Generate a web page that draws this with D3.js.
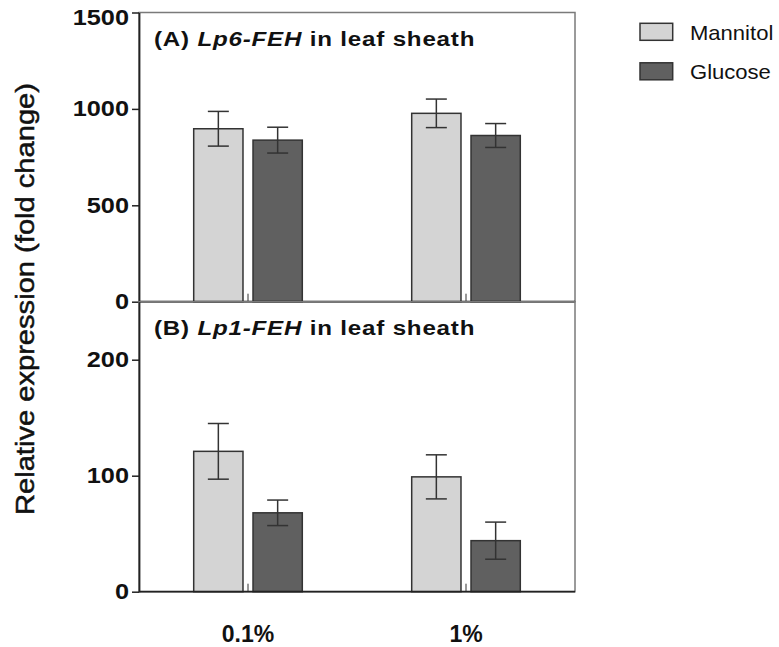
<!DOCTYPE html>
<html>
<head>
<meta charset="utf-8">
<script src="https://cdn.jsdelivr.net/npm/d3@7"></script>
<style>
  body { margin: 0; background: white; }
  text { font-family: "Liberation Sans", Arial, sans-serif; }
</style>
</head>
<body>
<svg id="chart"></svg>
<script>

// data
var categories = ["0.1%", "1%"];
var series = ["Mannitol", "Glucose"];
var seriesColors = ["#d4d4d4", "#606060"];

// (A) Lp6-FEH
var lp6Mannitol = [897, 977];
var lp6MannitolErr = [90, 74];
var lp6Glucose = [838, 862];
var lp6GlucoseErr = [67, 62];

// (B) Lp1-FEH
var lp1Mannitol = [121, 99];
var lp1MannitolErr = [24, 19];
var lp1Glucose = [68, 44];
var lp1GlucoseErr = [11, 16];

var lp6Ticks = [0, 500, 1000, 1500];
var lp1Ticks = [0, 100, 200];


var screen = {width: 779, height: 647};
var frame = {left: 139, right: 575};

var svg = d3.select("svg#chart")
    .attr("width", screen.width)
    .attr("height", screen.height)
    .style("background-color", "white");

var xScale = d3.scalePoint()
    .domain(categories)
    .range([frame.left, frame.right])
    .padding(0.5);

var barScale = d3.scaleBand()
    .domain(series)
    .range([-54.3, 54.3])
    .paddingInner(0.169);

var colorScale = d3.scaleOrdinal()
    .domain(series)
    .range(seriesColors);


var drawPanel = function(panel)
{
    var yScale = d3.scaleLinear()
        .domain(panel.domain)
        .range([panel.bottom, panel.top]);

    var g = svg.append("g").classed("panel", true);

    // grey box on top and right
    g.append("rect")
        .attr("x", frame.left)
        .attr("y", panel.top)
        .attr("width", frame.right - frame.left)
        .attr("height", panel.bottom - panel.top)
        .attr("fill", "none")
        .attr("stroke", "#7a7a7a")
        .attr("stroke-width", 1.5);

    // build rows: one per category per series
    var rows = [];
    categories.forEach(function(cat, i) {
        rows.push({cat: cat, s: "Mannitol", v: panel.mannitol[i], e: panel.mannitolErr[i]});
        rows.push({cat: cat, s: "Glucose", v: panel.glucose[i], e: panel.glucoseErr[i]});
    });

    g.selectAll("rect.bar")
        .data(rows)
        .enter()
        .append("rect")
        .classed("bar", true)
        .attr("x", function(d) { return xScale(d.cat) + barScale(d.s); })
        .attr("y", function(d) { return yScale(d.v); })
        .attr("width", barScale.bandwidth())
        .attr("height", function(d) { return yScale(0) - yScale(d.v); })
        .attr("fill", function(d) { return colorScale(d.s); })
        .attr("stroke", "#333")
        .attr("stroke-width", 1.5);

    var err = g.selectAll("g.err")
        .data(rows)
        .enter()
        .append("g")
        .classed("err", true)
        .attr("stroke", "#333")
        .attr("stroke-width", 1.5);

    var cx = function(d) { return xScale(d.cat) + barScale(d.s) + barScale.bandwidth() / 2; };

    err.append("line")
        .attr("x1", cx).attr("x2", cx)
        .attr("y1", function(d) { return yScale(d.v + d.e); })
        .attr("y2", function(d) { return yScale(d.v - d.e); });
    err.append("line")
        .attr("x1", function(d) { return cx(d) - 10.5; })
        .attr("x2", function(d) { return cx(d) + 10.5; })
        .attr("y1", function(d) { return yScale(d.v + d.e); })
        .attr("y2", function(d) { return yScale(d.v + d.e); });
    err.append("line")
        .attr("x1", function(d) { return cx(d) - 10.5; })
        .attr("x2", function(d) { return cx(d) + 10.5; })
        .attr("y1", function(d) { return yScale(d.v - d.e); })
        .attr("y2", function(d) { return yScale(d.v - d.e); });

    // small category ticks pointing up from zero line
    g.selectAll("line.cat")
        .data(categories)
        .enter()
        .append("line")
        .classed("cat", true)
        .attr("x1", function(d) { return xScale(d); })
        .attr("x2", function(d) { return xScale(d); })
        .attr("y1", yScale(0))
        .attr("y2", yScale(0) - 8)
        .attr("stroke", "#333")
        .attr("stroke-width", 1);

    // zero line
    g.append("line")
        .attr("x1", frame.left)
        .attr("x2", frame.right)
        .attr("y1", yScale(0))
        .attr("y2", yScale(0))
        .attr("stroke", "#222")
        .attr("stroke-width", 1.8);

    // y axis
    var yAxis = d3.axisLeft(yScale)
        .tickValues(panel.ticks)
        .tickFormat(d3.format("d"))
        .tickSize(7)
        .tickSizeOuter(0);

    var axis = g.append("g")
        .attr("transform", "translate(" + frame.left + ",0)")
        .call(yAxis);

    axis.select(".domain")
        .attr("stroke", "#222")
        .attr("stroke-width", 1.8);
    axis.selectAll(".tick line")
        .attr("stroke", "#222")
        .attr("stroke-width", 1.5);
    axis.selectAll(".tick text")
        .attr("x", -8.7)
        .attr("transform", function(d) {
            // top label sits a bit lower in the original
            return (d == 1500 ? "translate(0,5) " : "") + "scale(1.15,1)";
        })
        .style("font-family", "'Liberation Sans', Arial, sans-serif")
        .style("font-size", "22px")
        .style("font-weight", "bold")
        .attr("fill", "#111");

    // panel title
    var title = g.append("text")
        .attr("transform", "translate(154," + (panel.top + 33) + ") scale(1.15,1)")
        .style("font-size", "21px")
        .style("font-weight", "bold")
        .style("letter-spacing", "0.7px")
        .attr("fill", "#111");
    title.append("tspan").text(panel.label + " ");
    title.append("tspan").style("font-style", "italic").text(panel.gene);
    title.append("tspan").text(" in leaf sheath");
}

drawPanel({
    top: 12.5, bottom: 301.7, domain: [0, 1500], ticks: lp6Ticks,
    mannitol: lp6Mannitol, mannitolErr: lp6MannitolErr,
    glucose: lp6Glucose, glucoseErr: lp6GlucoseErr,
    label: "(A)", gene: "Lp6-FEH"
});

drawPanel({
    top: 301.7, bottom: 591.7, domain: [0, 250], ticks: lp1Ticks,
    mannitol: lp1Mannitol, mannitolErr: lp1MannitolErr,
    glucose: lp1Glucose, glucoseErr: lp1GlucoseErr,
    label: "(B)", gene: "Lp1-FEH"
});

// category labels
svg.append("g")
    .selectAll("text")
    .data(categories)
    .enter()
    .append("text")
    .text(function(d) { return d; })
    .attr("x", function(d) { return xScale(d); })
    .attr("y", 642)
    .attr("text-anchor", "middle")
    .style("font-size", "23px")
    .style("font-weight", "bold")
    .attr("fill", "#111");

// y label
svg.append("text")
    .text("Relative expression (fold change)")
    .attr("transform", "translate(34,299) rotate(-90)")
    .attr("text-anchor", "middle")
    .attr("textLength", 432)
    .attr("lengthAdjust", "spacingAndGlyphs")
    .style("font-size", "26.5px")
    .attr("fill", "#111")
    .attr("stroke", "#111")
    .attr("stroke-width", 0.5);

// legend
var legend = svg.append("g")
    .selectAll("g")
    .data(series)
    .enter()
    .append("g")
    .attr("transform", function(d, i) { return "translate(640," + (23.3 + i * 39.5) + ")"; });

legend.append("rect")
    .attr("width", 32.7)
    .attr("height", 17)
    .attr("fill", function(d) { return colorScale(d); })
    .attr("stroke", "#333")
    .attr("stroke-width", 1.5);

legend.append("text")
    .text(function(d) { return d; })
    .attr("transform", "translate(50,16.5) scale(1.05,1)")
    .style("font-size", "21px")
    .attr("fill", "#111");

</script>
</body>
</html>
